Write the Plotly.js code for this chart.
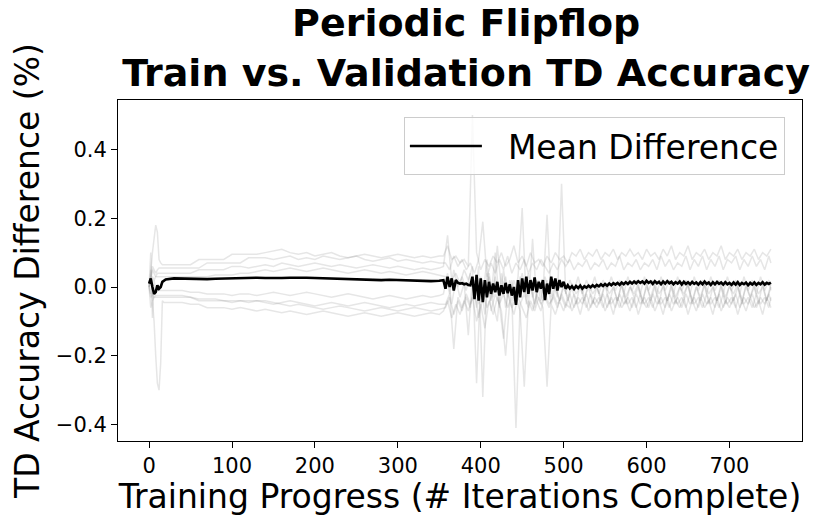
<!DOCTYPE html>
<html>
<head>
<meta charset="utf-8">
<script src="https://cdn.plot.ly/plotly-3.0.1.min.js"></script>
<style>html,body{margin:0;padding:0;background:#fff;}#chart{width:823px;height:516px;}</style>
</head>
<body>
<div id="chart"></div>
<script>
// x positions (training iterations) for runs A, C, E, G
const xIter = [0,2,4,6,8,10,12,14,16,18,20,
  30,40,50,60,70,80,90,100,110,120,130,140,150,160,170,180,190,200,210,220,230,240,250,260,270,280,290,300,310,320,330,340,350,
  355,360,365,370,375,380,385,390,395,400,405,410,415,420,425,430,435,440,445,450,455,460,465,470,475,480,485,490,495,500,
  505,510,515,520,525,530,535,540,545,550,555,560,565,570,575,580,585,590,595,600,605,610,615,620,625,630,635,640,645,650,
  655,660,665,670,675,680,685,690,695,700,705,710,715,720,725,730,735,740,745,750];
// x positions for runs B, D, F, H (logged half a step later)
const xIterB = [0,2,4,6,8,10,12,14,16,18,20,
  30,40,50,60,70,80,90,100,110,120,130,140,150,160,170,180,190,200,210,220,230,240,250,260,270,280,290,300,310,320,330,340,350,
  357.5,362.5,367.5,372.5,377.5,382.5,387.5,392.5,397.5,402.5,407.5,412.5,417.5,422.5,427.5,432.5,437.5,442.5,447.5,452.5,
  457.5,462.5,467.5,472.5,477.5,482.5,487.5,492.5,497.5,502.5,507.5,512.5,517.5,522.5,527.5,532.5,537.5,542.5,547.5,552.5,
  557.5,562.5,567.5,572.5,577.5,582.5,587.5,592.5,597.5,602.5,607.5,612.5,617.5,622.5,627.5,632.5,637.5,642.5,647.5,652.5,
  657.5,662.5,667.5,672.5,677.5,682.5,687.5,692.5,697.5,702.5,707.5,712.5,717.5,722.5,727.5,732.5,737.5,742.5,747.5,750];
// x positions for the mean curve
const xMean = [0,2,4,6,8,10,12,14,16,18,20,
  30,40,50,60,70,80,90,100,110,120,130,140,150,160,170,180,190,200,210,220,230,240,250,260,270,280,290,300,310,320,330,340,350,
  355,357.5,360,362.5,365,367.5,370,372.5,375,377.5,380,382.5,385,387.5,390,392.5,395,397.5,400,402.5,
  405,407.5,410,412.5,415,417.5,420,422.5,425,427.5,430,432.5,435,437.5,440,442.5,445,447.5,450,452.5,
  455,457.5,460,462.5,465,467.5,470,472.5,475,477.5,480,482.5,485,487.5,490,492.5,495,497.5,500,502.5,
  505,507.5,510,512.5,515,517.5,520,522.5,525,527.5,530,532.5,535,537.5,540,542.5,545,547.5,550,552.5,
  555,557.5,560,562.5,565,567.5,570,572.5,575,577.5,580,582.5,585,587.5,590,592.5,595,597.5,600,602.5,
  605,607.5,610,612.5,615,617.5,620,622.5,625,627.5,630,632.5,635,637.5,640,642.5,645,647.5,650,652.5,
  655,657.5,660,662.5,665,667.5,670,672.5,675,677.5,680,682.5,685,687.5,690,692.5,695,697.5,700,702.5,
  705,707.5,710,712.5,715,717.5,720,722.5,725,727.5,730,732.5,735,737.5,740,742.5,745,747.5,750];

// individual runs (train - validation TD accuracy difference)
const runA = [0.0,0.04,0.10,0.15,0.18,0.16,0.08,0.07,0.065,0.065,0.065,
  0.065,0.065,0.065,0.08,0.08,0.08,0.08,0.095,0.095,0.095,0.095,0.10,0.105,0.11,0.10,0.095,0.10,0.09,0.095,0.10,0.09,0.085,0.09,0.095,0.09,0.085,0.09,0.095,0.09,0.085,0.09,0.085,0.09,
  0.09,0.12,0.08,0.09,0.07,0.08,0.06,0.50,0.10,0.05,0.08,0.06,0.09,0.07,0.10,0.06,0.08,0.12,0.07,0.09,
  0.06,0.10,0.07,0.08,0.06,0.09,0.07,0.10,0.08,0.09,0.07,0.10,0.09,0.11,0.08,0.10,0.09,0.11,0.08,0.10,
  0.09,0.11,0.08,0.10,0.09,0.11,0.09,0.10,0.08,0.11,0.09,0.10,0.08,0.11,0.09,0.12,0.08,0.10,0.09,0.12,
  0.08,0.10,0.09,0.11,0.08,0.10,0.09,0.12,0.08,0.10,0.09,0.11,0.08,0.10,0.09,0.11,0.08,0.10,0.09,0.11];
const runB = [0.0,0.02,0.06,0.05,0.04,0.05,0.055,0.055,0.055,0.055,0.055,
  0.055,0.055,0.055,0.055,0.07,0.07,0.07,0.07,0.07,0.085,0.085,0.085,0.08,0.085,0.09,0.08,0.085,0.08,0.09,0.085,0.08,0.085,0.09,0.08,0.075,0.08,0.085,0.075,0.08,0.075,0.07,0.075,0.07,
  0.07,0.05,0.09,0.06,0.08,0.05,0.07,0.04,0.08,0.19,0.03,0.07,0.04,0.08,0.05,0.09,0.04,0.07,0.05,0.08,
  0.04,0.07,0.05,0.08,0.06,0.04,0.07,0.05,0.08,0.06,0.08,0.05,0.07,0.06,0.08,0.05,0.07,0.06,0.08,0.05,
  0.07,0.06,0.09,0.05,0.07,0.06,0.08,0.05,0.07,0.06,0.08,0.05,0.09,0.06,0.08,0.05,0.07,0.06,0.09,0.05,
  0.08,0.06,0.09,0.05,0.08,0.06,0.09,0.05,0.08,0.07,0.09,0.05,0.08,0.06,0.09,0.06,0.08,0.05,0.09,0.07];
const runC = [0.0,0.03,0.05,0.04,0.03,0.04,0.04,0.04,0.04,0.04,0.04,
  0.04,0.04,0.04,0.05,0.05,0.05,0.05,0.06,0.06,0.055,0.06,0.065,0.06,0.07,0.065,0.06,0.065,0.07,0.065,0.06,0.065,0.06,0.055,0.06,0.065,0.06,0.055,0.06,0.055,0.05,0.055,0.05,0.055,
  0.06,0.15,0.02,0.04,0.01,0.05,0.02,0.06,-0.28,0.03,-0.02,0.04,-0.03,0.12,-0.01,0.03,-0.04,0.02,-0.02,0.04,
  -0.03,0.01,-0.05,0.02,-0.02,0.21,-0.03,0.01,-0.04,0.0,-0.03,0.01,-0.02,0.0,-0.04,0.01,-0.02,0.0,-0.03,0.01,
  -0.02,0.0,-0.04,0.01,-0.03,0.0,-0.02,0.01,-0.04,0.0,-0.03,0.01,-0.02,0.0,-0.04,0.01,-0.03,0.0,-0.02,0.01,
  -0.04,0.0,-0.03,0.01,-0.02,0.0,-0.04,0.01,-0.03,0.0,-0.02,0.01,-0.04,0.0,-0.03,0.01,-0.02,0.0,-0.04,0.01];
const runD = [0.0,-0.02,0.03,0.02,0.03,0.03,0.03,0.03,0.03,0.03,0.03,
  0.03,0.03,0.03,0.03,0.03,0.035,0.035,0.035,0.04,0.04,0.045,0.05,0.045,0.05,0.055,0.05,0.045,0.05,0.055,0.05,0.045,0.04,0.045,0.05,0.045,0.04,0.045,0.04,0.035,0.04,0.045,0.04,0.035,
  0.03,-0.02,0.05,0.0,0.03,-0.01,0.04,-0.03,0.06,-0.32,0.04,-0.04,0.03,-0.06,0.05,-0.03,0.02,-0.05,0.03,-0.02,
  0.04,-0.03,0.02,-0.04,0.03,-0.02,0.01,-0.03,0.30,-0.02,0.02,-0.01,0.03,-0.02,0.02,-0.01,0.03,-0.02,0.02,-0.01,
  0.03,-0.01,0.02,-0.02,0.03,-0.01,0.02,-0.02,0.03,-0.01,0.02,-0.02,0.03,-0.01,0.02,-0.02,0.03,-0.01,0.02,-0.02,
  0.03,-0.01,0.02,-0.02,0.03,-0.01,0.02,-0.02,0.03,-0.01,0.02,-0.02,0.03,-0.01,0.02,-0.02,0.03,-0.01,0.02,-0.01];
const runE = [0.0,0.10,-0.09,0.02,-0.01,-0.01,-0.01,-0.01,-0.01,-0.01,-0.01,
  -0.01,-0.01,-0.015,-0.015,-0.02,-0.02,-0.02,-0.025,-0.02,-0.02,-0.025,-0.02,-0.015,-0.02,-0.025,-0.02,-0.015,-0.02,-0.025,-0.03,-0.025,-0.02,-0.025,-0.03,-0.035,-0.03,-0.025,-0.03,-0.035,-0.03,-0.025,-0.03,-0.025,
  -0.02,0.04,-0.05,0.02,-0.03,0.01,-0.14,0.03,-0.06,0.02,-0.08,0.03,-0.05,-0.10,0.04,-0.06,0.02,-0.04,0.03,0.23,
  -0.05,0.02,-0.06,0.01,-0.04,0.02,-0.05,0.0,-0.04,0.01,-0.04,0.0,-0.05,0.01,-0.03,0.0,-0.05,0.0,-0.04,0.01,
  -0.05,0.0,-0.04,0.01,-0.05,0.0,-0.03,0.0,-0.05,0.01,-0.04,0.0,-0.05,0.01,-0.04,0.0,-0.05,0.0,-0.03,0.01,
  -0.05,0.0,-0.04,0.01,-0.05,0.0,-0.04,0.0,-0.05,0.01,-0.04,0.0,-0.05,0.01,-0.03,0.0,-0.05,0.01,-0.04,0.0];
const runF = [0.0,0.05,-0.04,-0.03,-0.03,-0.03,-0.03,-0.03,-0.03,-0.03,-0.03,
  -0.03,-0.03,-0.03,-0.035,-0.035,-0.035,-0.04,-0.04,-0.04,-0.045,-0.04,-0.045,-0.05,-0.045,-0.04,-0.045,-0.05,-0.055,-0.05,-0.045,-0.05,-0.055,-0.05,-0.045,-0.05,-0.055,-0.06,-0.055,-0.05,-0.055,-0.05,-0.045,-0.05,
  -0.05,-0.02,-0.18,-0.03,-0.06,-0.02,-0.05,-0.01,-0.09,-0.03,0.08,-0.07,-0.02,-0.05,-0.15,-0.02,-0.06,-0.03,-0.07,-0.29,
  -0.04,-0.07,-0.02,-0.05,-0.03,-0.06,-0.02,-0.05,-0.03,-0.06,-0.02,-0.06,-0.03,-0.05,-0.02,-0.06,-0.03,-0.05,-0.02,-0.06,
  -0.03,-0.06,-0.02,-0.05,-0.03,-0.06,-0.02,-0.05,-0.03,-0.06,-0.02,-0.05,-0.03,-0.06,-0.02,-0.05,-0.03,-0.06,-0.02,-0.05,
  -0.03,-0.06,-0.02,-0.05,-0.03,-0.06,-0.02,-0.06,-0.03,-0.05,-0.02,-0.06,-0.03,-0.05,-0.02,-0.06,-0.03,-0.05,-0.02,-0.04];
const runG = [0.0,-0.06,-0.04,-0.10,-0.20,-0.28,-0.30,-0.22,-0.04,-0.045,-0.045,
  -0.045,-0.045,-0.05,-0.05,-0.06,-0.06,-0.06,-0.065,-0.06,-0.065,-0.07,-0.065,-0.07,-0.075,-0.07,-0.075,-0.08,-0.075,-0.07,-0.075,-0.08,-0.085,-0.08,-0.075,-0.08,-0.085,-0.08,-0.075,-0.08,-0.085,-0.08,-0.075,-0.08,
  -0.07,-0.04,-0.09,-0.05,-0.08,-0.04,-0.07,-0.03,-0.10,-0.05,-0.12,-0.04,-0.08,-0.03,-0.07,-0.20,-0.04,-0.08,-0.03,-0.06,
  -0.09,-0.04,-0.07,-0.03,-0.06,-0.29,-0.05,-0.08,-0.04,-0.07,-0.03,-0.07,-0.04,-0.08,-0.03,-0.07,-0.04,-0.06,-0.03,-0.07,
  -0.04,-0.08,-0.03,-0.06,-0.04,-0.07,-0.03,-0.08,-0.04,-0.06,-0.03,-0.07,-0.04,-0.08,-0.03,-0.07,-0.04,-0.06,-0.03,-0.08,
  -0.04,-0.07,-0.03,-0.06,-0.04,-0.08,-0.03,-0.07,-0.04,-0.06,-0.03,-0.08,-0.04,-0.07,-0.03,-0.06,-0.04,-0.08,-0.03,-0.06];
const runH = [0.0,-0.03,-0.02,-0.03,-0.025,-0.025,-0.025,-0.025,-0.025,-0.025,-0.025,
  -0.025,-0.025,-0.03,-0.04,-0.04,-0.04,-0.04,-0.045,-0.04,-0.04,-0.04,-0.04,-0.045,-0.05,-0.055,-0.05,-0.055,-0.06,-0.065,-0.06,-0.055,-0.06,-0.065,-0.07,-0.065,-0.06,-0.065,-0.07,-0.065,-0.06,-0.065,-0.07,-0.065,
  -0.06,-0.03,-0.08,-0.04,-0.07,-0.03,-0.06,0.02,-0.05,-0.02,-0.06,-0.03,0.10,-0.05,-0.02,-0.06,-0.03,-0.41,-0.05,-0.02,
  -0.06,0.14,-0.04,-0.07,-0.02,-0.05,-0.03,-0.06,-0.02,-0.05,-0.06,-0.02,-0.05,-0.03,-0.06,-0.02,-0.05,-0.03,-0.06,-0.02,
  -0.05,-0.03,-0.06,-0.02,-0.05,-0.03,-0.06,-0.02,-0.05,-0.03,-0.06,-0.02,-0.05,-0.03,-0.06,-0.02,-0.05,-0.03,-0.06,-0.02,
  -0.05,-0.03,-0.06,-0.02,-0.05,-0.03,-0.06,-0.02,-0.05,-0.03,-0.06,-0.02,-0.05,-0.03,-0.06,-0.02,-0.05,-0.03,-0.06,-0.03];

// mean difference across runs
const meanDiff = [0.01,0.025,0.0,-0.02,-0.015,0.005,-0.005,0.0,0.015,0.02,0.022,
  0.025,0.024,0.023,0.022,0.023,0.024,0.025,0.026,0.027,0.026,0.027,0.026,0.025,0.026,0.027,0.028,0.027,0.026,0.025,0.024,0.023,0.024,0.023,0.022,0.021,0.020,0.021,0.020,0.019,0.018,0.018,0.017,0.018,
  0.02,-0.005,0.03,0.0,0.025,-0.01,0.02,0.012,0.01,0.011,
  0.008,0.01,0.006,0.005,0.03,-0.035,0.035,-0.04,0.025,-0.044,
  0.02,-0.03,0.015,-0.02,0.01,-0.015,0.015,-0.025,0.005,-0.02,
  0.012,-0.018,0.008,-0.025,0.0,-0.052,0.02,-0.03,0.025,-0.015,
  0.03,-0.02,0.02,-0.01,0.028,-0.015,0.015,-0.005,0.02,-0.038,
  0.01,-0.02,0.03,-0.005,0.025,-0.01,0.02,0.0,0.015,-0.005,
  0.005,-0.004,0.002,-0.006,0.003,-0.003,0.004,-0.005,0.002,-0.002,
  0.004,-0.001,0.005,0.0,0.006,0.002,0.008,0.003,0.009,0.004,
  0.01,0.005,0.011,0.007,0.012,0.006,0.013,0.008,0.014,0.009,
  0.015,0.01,0.016,0.011,0.017,0.012,0.016,0.01,0.018,0.012,
  0.016,0.009,0.017,0.011,0.015,0.008,0.016,0.01,0.017,0.011,
  0.015,0.008,0.014,0.01,0.016,0.007,0.015,0.009,0.014,0.008,
  0.015,0.009,0.013,0.007,0.014,0.008,0.016,0.009,0.013,0.006,
  0.014,0.008,0.015,0.009,0.013,0.007,0.014,0.008,0.012,0.006,
  0.013,0.007,0.014,0.006,0.012,0.008,0.013,0.005,0.012,0.007,
  0.013,0.006,0.012,0.008,0.014,0.007,0.012,0.009,0.013];

const runsA = [runA, runC, runE, runG];
const runsB = [runB, runD, runF, runH];
const xTicks = [0,100,200,300,400,500,600,700];
const yTicks = [-0.4,-0.2,0.0,0.2,0.4];

const FONT = 'DejaVu Sans, Liberation Sans, sans-serif';
const grayLine = {color: 'rgba(128,128,128,0.2)', width: 1.5};
const traces = [];
runsA.forEach(r => traces.push({x: xIter, y: r, type: 'scatter', mode: 'lines', line: grayLine, showlegend: false, hoverinfo: 'skip'}));
runsB.forEach(r => traces.push({x: xIterB, y: r, type: 'scatter', mode: 'lines', line: grayLine, showlegend: false, hoverinfo: 'skip'}));
traces.push({
  x: xMean, y: meanDiff, type: 'scatter', mode: 'lines', name: '\u00a0\u00a0Mean Difference',
  line: {color: '#000000', width: 2.6}
});

const layout = {
  width: 823, height: 516,
  margin: {l: 118, r: 21, t: 100, b: 75},
  paper_bgcolor: '#ffffff', plot_bgcolor: '#ffffff',
  font: {family: FONT, color: '#000'},
  title: {
    text: 'Periodic Flipflop<br>Train vs. Validation TD Accuracy',
    font: {family: FONT, size: 38, weight: 'bold', color: '#000'},
    xref: 'paper', x: 0.509, xanchor: 'center',
    yref: 'container', y: 0.93, yanchor: 'middle'
  },
  xaxis: {
    range: [-37.5, 787.5], tickvals: xTicks, ticktext: xTicks.map(String),
    ticks: 'outside', ticklen: 6, tickwidth: 1, tickcolor: '#000',
    showline: true, linecolor: '#000', linewidth: 1, mirror: true,
    showgrid: false, zeroline: false,
    tickfont: {family: FONT, size: 21, color: '#000'},
    title: {text: 'Training Progress (# Iterations Complete)', font: {family: FONT, size: 33, color: '#000'}, standoff: 4}
  },
  yaxis: {
    range: [-0.448, 0.544], tickvals: yTicks, tickformat: '.1f',
    ticks: 'outside', ticklen: 6, tickwidth: 1, tickcolor: '#000',
    showline: true, linecolor: '#000', linewidth: 1, mirror: true,
    showgrid: false, zeroline: false,
    tickfont: {family: FONT, size: 21, color: '#000'},
    title: {text: 'TD Accuracy Difference (%)', font: {family: FONT, size: 33, color: '#000'}, standoff: 6}
  },
  legend: {
    x: 0.975, y: 0.95, xanchor: 'right', yanchor: 'top',
    bgcolor: 'rgba(255,255,255,0.8)', bordercolor: '#cccccc', borderwidth: 1,
    font: {family: FONT, size: 33, color: '#000'},
    itemwidth: 72
  },
  showlegend: true
};

Plotly.newPlot('chart', traces, layout, {staticPlot: true, displayModeBar: false});
</script>
</body>
</html>
